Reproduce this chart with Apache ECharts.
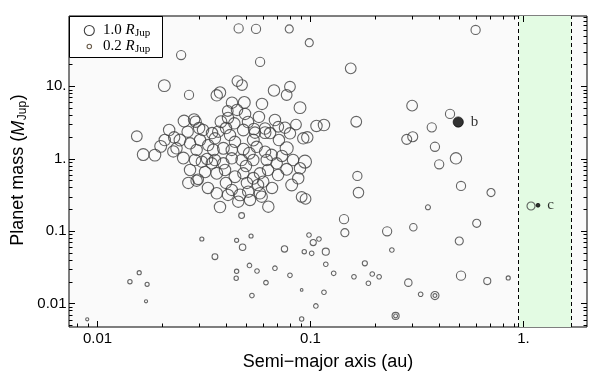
<!DOCTYPE html>
<html><head><meta charset="utf-8">
<script src="https://cdn.jsdelivr.net/npm/echarts@6/dist/echarts.min.js"></script>
<style>html,body{margin:0;padding:0;background:#fff}#c{width:603px;height:390px}</style>
</head><body><div id="c"></div>
<script>
// ---- data (semi-major axis in au, mass in M_Jup, radius in R_Jup) ----
const semiMajorAxis = [
0.046,0.0555,0.0795,0.0247,0.0987,0.058,0.1545,0.596,0.0206,0.0269,
0.0363,0.0376,0.0454,0.0477,0.0674,0.0801,0.0773,0.0893,0.30,0.452,
0.371,0.164,0.0428,0.0489,0.0409,0.0452,0.0493,0.038,0.0439,0.0484,
0.0681,0.0706,0.0759,0.0855,0.1067,0.1157,0.0543,0.0612,0.0612,0.0549,
0.0539,0.0801,0.0925,0.0966,0.0773,0.035,0.039,0.0442,0.0484,0.0516,
0.0427,0.0623,0.0694,0.0773,0.0893,0.0942,0.0876,0.0363,0.0397,0.0442,
0.0484,0.0539,0.0579,0.060,0.0816,0.0363,0.0427,0.0467,0.051,0.0579,
0.0376,0.0458,0.052,0.059,0.0634,0.0909,0.0948,0.0153,0.0164,0.0186,
0.0198,0.0217,0.0229,0.0227,0.0244,0.0255,0.0284,0.0289,0.0265,0.0253,
0.0272,0.0292,0.0303,0.0309,0.0331,0.0344,0.0267,0.0292,0.0297,0.0369,
0.0235,0.0287,0.166,0.168,0.1437,0.145,0.229,0.304,0.356,0.283,
0.302,0.384,0.402,0.482,0.509,0.704,1.085,0.603,0.4995,0.509,
0.676,0.848,0.384,0.384,0.329,0.288,0.251,0.251,0.241,0.195,
0.210,0.180,0.187,0.160,0.1285,0.118,0.118,0.103,0.1096,0.0984,
0.0935,0.1013,0.0755,0.0681,0.0561,0.0801,0.0618,0.0531,0.0909,0.1157,
0.106,0.0909,0.0517,0.045,0.0448,0.048,0.0356,0.0309,0.045,0.0526,
0.0157,0.0142,0.0171,0.0169,0.00895,0.0475,0.0539,0.0475,0.0419,0.0356,
0.0559,0.0612,0.0657,0.0356,0.039,0.032,0.033,0.0313,0.0345,0.0401,
0.0509,0.0573,0.0592,0.0711,0.0704,0.066,0.0503,0.0401,0.0498,0.041,
0.0327,0.0272,0.0207,0.0646,0.0427,0.0567,0.041,0.030,0.0735,0.0828,
0.0632
];
const planetMass = [
63,62,62,27,40,21.7,17.7,60,10.2,7.6,
7.5,8.2,11.8,10.4,8.75,9.86,7.58,5.07,5.4,4.15,
2.71,3.24,5.94,5.98,4.56,4.71,4.15,3.24,3.08,2.49,
3.42,2.76,2.68,2.96,2.83,2.92,2.57,2.61,2.29,2.29,
1.81,2.24,1.91,1.97,1.39,1.32,1.39,1.71,1.35,1.19,
1.01,0.96,0.863,0.714,0.737,0.91,0.536,0.628,0.698,0.564,
0.628,0.536,0.628,0.481,0.433,0.333,0.37,0.316,0.35,0.333,
0.215,0.255,0.269,0.299,0.2175,0.296,0.278,2.04,1.14,1.12,
1.48,2.49,1.97,1.26,1.81,3.31,3.48,3.24,2.36,1.02,
1.63,1.32,1.81,0.909,1.54,0.863,0.462,0.497,0.519,2.36,
1.39,0.959,0.577,0.34,0.146,0.095,0.0993,0.113,0.213,1.85,
2.01,1.46,0.836,1.01,0.42,0.34,0.222,0.128,0.0729,0.0242,
0.0204,0.0225,0.01285,0.01285,0.0134,0.0194,0.00672,0.00672,0.0548,0.0255,
0.0234,0.0359,0.019,0.0234,0.0261,0.0348,0.0519,0.0695,0.0777,0.0883,
0.0519,0.0493,0.0566,0.0307,0.0281,0.0245,0.0194,0.01285,0.0154,0.0143,
0.00924,0.0061,0.0335,0.0278,0.0223,0.0597,0.0443,0.0777,0.0746,0.0855,
0.0266,0.02,0.0184,0.0107,0.00605,0.164,0.959,0.959,2.12,1.91,
1.46,1.25,1.13,0.959,0.863,0.655,0.394,2.49,2.26,2.65,
3.21,3.77,5.70,1.81,0.595,0.394,0.462,0.462,0.792,0.316,
0.991,0.698,1.81,2.26,1.32,0.433,3.65,2.65,1.09,0.959,
0.698
];
const planetRadius = [
0.85,0.85,0.65,0.85,0.65,0.85,1.15,0.85,1.4,0.85,
1.3,1.3,1.15,1.15,1.3,1.15,1.15,1.4,1.15,0.85,
0.85,1.15,1.3,1.4,1.15,1.3,1.3,1.4,1.3,1.4,
1.3,1.15,1.3,1.15,1.3,1.3,1.3,1.3,1.4,1.3,
1.4,1.3,1.3,1.3,1.7,1.4,1.4,1.3,1.4,1.4,
1.3,1.3,1.3,1.4,1.3,1.7,1.3,1.4,1.3,1.4,
1.3,1.4,1.3,1.3,1.4,1.3,1.3,1.4,1.3,1.3,
1.3,1.3,1.3,1.3,1.3,1.15,1.15,1.15,1.4,1.4,
1.4,1.3,1.3,1.3,1.4,1.4,1.3,1.3,1.3,1.4,
1.3,1.3,1.3,1.3,1.3,1.3,1.3,1.3,1.15,1.3,
1.3,1.3,0.85,1.1,0.85,0.65,0.85,0.55,0.25,1.0,
1.0,0.85,0.85,1.3,0.85,0.65,0.65,0.65,0.65,0.85,
0.5,0.17,0.65,0.15,0.21,0.55,0.5,0.15,0.21,0.21,
0.21,0.26,0.21,0.21,0.21,0.21,0.5,0.38,0.21,0.21,
0.19,0.21,0.4,0.21,0.21,0.21,0.21,0.21,0.07,0.21,
0.21,0.19,0.21,0.19,0.19,0.42,0.34,0.17,0.17,0.17,
0.17,0.19,0.17,0.1,0.1,0.34,1.3,1.3,1.3,1.3,
1.3,1.3,1.3,1.3,1.3,1.3,1.3,1.3,1.3,1.3,
1.3,1.3,1.3,1.3,1.3,1.3,1.3,1.3,1.3,1.3,
1.3,1.3,1.3,1.3,1.3,1.3,1.3,1.3,1.3,1.3,
1.3
];
const targetNames = ['b', 'c'];
const targetA = [0.494, 1.17];
const targetM = [3.21, 0.227];
const targetR = [1.05, 0.15];
const habitableZone = [0.955, 1.68];
const legendRadii = [1.0, 0.2];
const legendLabels = ['1.0', '0.2'];

const xRange = [0.00735, 1.987];
const yRange = [0.00473, 93.5];
const xMajorTicks = [0.01, 0.1, 1];
const xTickLabels = ['0.01', '0.1', '1.'];
const xMinorTicks = [0.008,0.009,0.02,0.03,0.04,0.05,0.06,0.07,0.08,0.09,0.2,0.3,0.4,0.5,0.6,0.7,0.8,0.9];
const yMajorTicks = [0.01, 0.1, 1, 10];
const yTickLabels = ['0.01', '0.1', '1.', '10.'];
const yMinorTicks = [0.005,0.006,0.007,0.008,0.009,0.02,0.03,0.04,0.05,0.06,0.07,0.08,0.09,
  0.2,0.3,0.4,0.5,0.6,0.7,0.8,0.9,2,3,4,5,6,7,8,9,20,30,40,50,60,70,80,90];

// ---- chart ----
const SANS = '"Liberation Sans", Arial, sans-serif';
const SERIF = '"Liberation Serif", "Times New Roman", serif';
const sizeOf = r => 10 * Math.sqrt(r);
const EDGE = '#3f3f3f';

const ctx = document.createElement('canvas').getContext('2d');
function tw(text, font) { ctx.font = font; return ctx.measureText(text).width; }

const planets = semiMajorAxis.map((a, i) => [a, planetMass[i], planetRadius[i]]);
const targets = targetNames.map((n, i) => ({ name: n, value: [targetA[i], targetM[i], targetR[i]] }));

function tickSeries(values, axis, len) {
  return {
    type: 'custom', coordinateSystem: 'cartesian2d', silent: true, z: 20, clip: false,
    data: values.map(v => axis === 'x' ? [v, yRange[0]] : [xRange[0], v]),
    renderItem: function (params, api) {
      const cs = params.coordSys;
      const p = api.coord([api.value(0), api.value(1)]);
      const style = { stroke: '#000', lineWidth: 1, fill: null };
      if (axis === 'x') {
        const x = Math.round(p[0]) + 0.5, yb = cs.y + cs.height, yt = cs.y;
        return { type: 'group', children: [
          { type: 'line', shape: { x1: x, y1: yb, x2: x, y2: yb - len }, style: style },
          { type: 'line', shape: { x1: x, y1: yt, x2: x, y2: yt + len }, style: style }
        ] };
      } else {
        const y = Math.round(p[1]) + 0.5, xl = cs.x, xr = cs.x + cs.width;
        return { type: 'group', children: [
          { type: 'line', shape: { x1: xl, y1: y, x2: xl + len, y2: y }, style: style },
          { type: 'line', shape: { x1: xr, y1: y, x2: xr - len, y2: y }, style: style }
        ] };
      }
    }
  };
}
function labelSeries(values, labels, axis) {
  return {
    type: 'custom', coordinateSystem: 'cartesian2d', silent: true, z: 20, clip: false,
    data: values.map(v => axis === 'x' ? [v, yRange[0]] : [xRange[0], v]),
    renderItem: function (params, api) {
      const cs = params.coordSys;
      const p = api.coord([api.value(0), api.value(1)]);
      const txt = labels[params.dataIndex];
      const st = { text: txt, font: '15px ' + SANS, fill: '#000' };
      if (axis === 'x') {
        Object.assign(st, { x: p[0], y: cs.y + cs.height + 11.5, align: 'center', textAlign: 'center', verticalAlign: 'middle', textVerticalAlign: 'middle' });
      } else {
        Object.assign(st, { x: cs.x - 2.5, y: p[1], align: 'right', textAlign: 'right', verticalAlign: 'middle', textVerticalAlign: 'middle' });
      }
      return { type: 'text', style: st };
    }
  };
}

function txt(text, x, y, font, extra) {
  return Object.assign({ type: 'text', z: 102, style: { text: text, x: x, y: y, font: font, fill: '#000',
    align: 'left', textAlign: 'left', verticalAlign: 'middle', textVerticalAlign: 'middle' } }, extra || {});
}

// legend
const graphics = [];
graphics.push({ type: 'rect', z: 100, shape: { x: 69.5, y: 16.5, width: 93, height: 41 }, style: { fill: '#fff', stroke: '#000', lineWidth: 1 } });
const legendY = [29.7, 45.7];
legendRadii.forEach((r, i) => {
  graphics.push({ type: 'circle', z: 101, shape: { cx: 89.3, cy: legendY[i] + 0.8, r: sizeOf(r) / 2 },
    style: { fill: 'rgba(0,0,0,0)', stroke: i === 0 ? EDGE : '#6b5d4c', lineWidth: 1.1 } });
  const f1 = '15px ' + SERIF, fI = 'italic 15px ' + SERIF, fS = '11px ' + SERIF;
  let x = 103;
  graphics.push(txt(legendLabels[i] + ' ', x, legendY[i], f1));
  x += tw(legendLabels[i] + ' ', f1);
  graphics.push(txt('R', x, legendY[i], fI));
  x += tw('R', fI) + 0.3;
  graphics.push(txt('Jup', x, legendY[i] + 3.8, fS));
});

// x title
graphics.push({ type: 'text', z: 50, style: { text: 'Semi\u2212major axis (au)', x: 328, y: 362, font: '18px ' + SANS, fill: '#000',
  align: 'center', textAlign: 'center', verticalAlign: 'middle', textVerticalAlign: 'middle' } });
// y title (rotated)
(function () {
  const fN = '18px ' + SANS, fI = 'italic 18px ' + SANS, fS = '12px ' + SANS;
  const parts = [['Planet mass (', fN, 0], ['M', fI, 0], ['Jup', fS, 4.5], [')', fN, 0]];
  const widths = parts.map(p => tw(p[0], p[1]));
  const total = widths.reduce((s, w) => s + w, 0) + 1;
  let x = -total / 2;
  const children = parts.map((p, i) => {
    const el = { type: 'text', style: { text: p[0], x: x, y: p[2], font: p[1], fill: '#000',
      align: 'left', textAlign: 'left', verticalAlign: 'middle', textVerticalAlign: 'middle' } };
    x += widths[i] + (i === 1 ? 0.5 : 0) + (i === 2 ? 0.5 : 0);
    return el;
  });
  graphics.push({ type: 'group', x: 18.5, y: 170, rotation: Math.PI / 2, z: 50, children: children });
})();

const chart = echarts.init(document.getElementById('c'), null, { renderer: 'canvas' });
chart.setOption({
  animation: false,
  backgroundColor: '#fff',
  textStyle: { fontFamily: SANS },
  grid: { left: 69, right: 16, top: 16, bottom: 63, show: true, backgroundColor: '#fafafa', borderColor: '#000', borderWidth: 1 },
  xAxis: { type: 'log', min: xRange[0], max: xRange[1], axisLine: { show: false }, axisTick: { show: false },
    axisLabel: { show: false }, splitLine: { show: false }, minorTick: { show: false } },
  yAxis: { type: 'log', min: yRange[0], max: yRange[1], axisLine: { show: false }, axisTick: { show: false },
    axisLabel: { show: false }, splitLine: { show: false }, minorTick: { show: false } },
  graphic: graphics,
  series: [
    { type: 'scatter', name: 'zone', data: [], z: 1, silent: true,
      markArea: { silent: true, itemStyle: { color: '#e3fbe3' }, data: [[{ xAxis: habitableZone[0] }, { xAxis: habitableZone[1] }]] },
      markLine: { silent: true, symbol: ['none', 'none'], label: { show: false },
        lineStyle: { color: '#000', type: [4, 3], width: 1 },
        data: [{ xAxis: habitableZone[0] }, { xAxis: habitableZone[1] }] } },
    { type: 'scatter', name: 'planets', data: planets, z: 5, silent: true,
      symbol: 'circle', symbolSize: v => sizeOf(v[2]),
      itemStyle: { color: 'rgba(0,0,0,0)', borderColor: EDGE, borderWidth: 1.1 } },
    { type: 'scatter', name: 'targets', data: targets, z: 6, silent: true,
      symbol: 'circle', symbolSize: v => sizeOf(v[2]),
      itemStyle: { color: '#000', borderColor: '#000', borderWidth: 0.8 },
      label: { show: true, position: 'right', distance: 7, formatter: '{b}', color: '#000', fontFamily: SERIF, fontSize: 15 } },
    tickSeries(xMajorTicks, 'x', 6), tickSeries(xMinorTicks, 'x', 3.5),
    tickSeries(yMajorTicks, 'y', 6), tickSeries(yMinorTicks, 'y', 3.5),
    labelSeries(xMajorTicks, xTickLabels, 'x'), labelSeries(yMajorTicks, yTickLabels, 'y')
  ]
});
</script></body></html>
